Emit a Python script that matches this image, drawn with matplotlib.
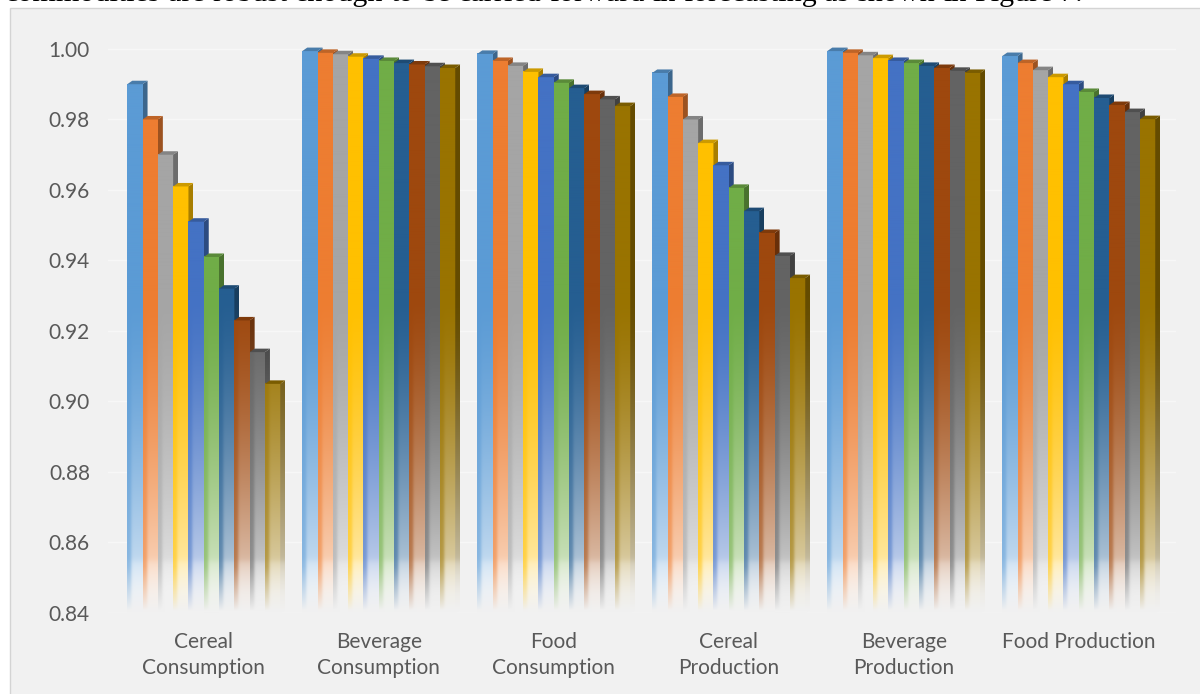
import numpy as np
import matplotlib
matplotlib.use("Agg")
import matplotlib.pyplot as plt
from matplotlib.colors import to_rgb
from matplotlib.patches import Polygon, Rectangle
from matplotlib.ticker import FormatStrFormatter

# ---- data -------------------------------------------------------------
categories = ["Cereal\nConsumption", "Beverage\nConsumption", "Food\nConsumption",
              "Cereal\nProduction", "Beverage\nProduction", "Food Production"]

cereal_consumption = [0.990, 0.980, 0.970, 0.961, 0.951, 0.941, 0.932, 0.923, 0.914, 0.905]
beverage_consumption = [0.9994, 0.9989, 0.9985, 0.9978, 0.9972, 0.9966, 0.9960, 0.9956, 0.9951, 0.9946]
food_consumption = [0.9986, 0.9966, 0.9952, 0.9935, 0.9920, 0.9904, 0.9889, 0.9872, 0.9857, 0.9838]
cereal_production = [0.9932, 0.9864, 0.9800, 0.9733, 0.9670, 0.9606, 0.9540, 0.9478, 0.9413, 0.9350]
beverage_production = [0.9994, 0.9989, 0.9982, 0.9974, 0.9966, 0.9960, 0.9952, 0.9946, 0.9938, 0.9932]
food_production = [0.9980, 0.9960, 0.9940, 0.9920, 0.9900, 0.9878, 0.9861, 0.9841, 0.9821, 0.9801]

groups = [cereal_consumption, beverage_consumption, food_consumption,
          cereal_production, beverage_production, food_production]

series_colors = ["#5B9BD5", "#ED7D31", "#A5A5A5", "#FFC000", "#4472C4",
                 "#70AD47", "#255E91", "#9E480E", "#636363", "#997300"]

y_ticks = [0.84, 0.86, 0.88, 0.90, 0.92, 0.94, 0.96, 0.98, 1.00]

body_text = ("commodities are robust enough to be carried forward in "
             "forecasting as shown in Figure 7.")

# ---- styling ----------------------------------------------------------
BG = np.array(to_rgb("#F1F1F1"))
TEXT = "#595959"
FONT = "Lato"
Y0, Y1 = 0.84, 1.003

W, H = 1200, 694
fig = plt.figure(figsize=(W / 100, H / 100), dpi=100, facecolor="white")

# chart area panel with thin border
fig.patches.append(Rectangle((9.5 / W, -0.01), 1.02, (H - 8) / H + 0.01,
                             transform=fig.transFigure, facecolor=BG,
                             edgecolor="#D4D4D4", lw=1.0, zorder=-10))

ax = fig.add_axes([108 / W, 81 / H, (1176 - 108) / W, (613 - 38.4) / H])
ax.set_facecolor("none")
for s in ax.spines.values():
    s.set_visible(False)

bar_w = 15.3 / 175.0          # front face width in category units
depth_x = 5.0 / 175.0         # 3-D depth offset, x
depth_y = 3.5 / 3525.0        # 3-D depth offset, y


def face_pixels(base, v_hi, nx=16, ny=260, stripe=True):
    """Front/side face colouring: solid on top, washing out toward the floor."""
    base = np.array(base)
    v = np.linspace(Y0, v_hi, ny)[:, None]
    u = np.linspace(0, 1, nx)[None, :]
    t = np.clip((v - 0.845) / (0.93 - 0.845), 0, 1)
    w = 0.74 * (1 - t) ** 1.5
    # paler reflection band near the floor
    w = w + 0.12 / (1.0 + np.exp(-(0.8545 - v) / 0.0005))
    if stripe:
        left = 1.0 / (1.0 + np.exp((u - 0.25) / 0.05))
        w = w * (1 - 0.55 * left)
    w = np.clip(w, 0, 1)
    w = np.broadcast_to(w, (ny, nx))
    col = base * (1 - w[..., None]) + 1.0 * w[..., None]
    f = np.clip((v - 0.8405) / (0.853 - 0.8405), 0, 1) ** 0.9
    f = np.broadcast_to(f, (ny, nx))
    col = BG * (1 - f[..., None]) + col * f[..., None]
    return np.clip(col, 0, 1)


for g, vals in enumerate(groups):
    start = g - len(vals) * bar_w / 2
    for j, v in enumerate(vals):
        base = np.array(to_rgb(series_colors[j]))
        z = 2 + j * 0.1
        x0 = start + j * bar_w
        x1 = x0 + bar_w
        # front face
        ax.imshow(face_pixels(base, v), extent=(x0, x1, Y0, v), origin="lower",
                  aspect="auto", interpolation="bilinear", zorder=z)
        # side face
        side = Polygon([(x1, Y0), (x1, v), (x1 + depth_x, v + depth_y),
                        (x1 + depth_x, Y0 + depth_y)], closed=True,
                       transform=ax.transData)
        im = ax.imshow(face_pixels(base * 0.66, v + depth_y, nx=4, stripe=False),
                       extent=(x1, x1 + depth_x, Y0, v + depth_y), origin="lower",
                       aspect="auto", interpolation="bilinear", zorder=z + 0.01)
        im.set_clip_path(side)
        # top cap
        ax.add_patch(Polygon([(x0, v), (x1, v), (x1 + depth_x, v + depth_y),
                              (x0 + depth_x, v + depth_y)], closed=True,
                             facecolor=base * 0.8, edgecolor="none", zorder=z + 0.02))

ax.set_xlim((108 - 203.75) / 175, (1176 - 203.75) / 175)
ax.set_ylim(Y0, Y1)
ax.set_yticks(y_ticks)
ax.yaxis.set_major_formatter(FormatStrFormatter("%.2f"))
ax.set_xticks(range(len(categories)))
ax.set_xticklabels(categories, linespacing=1.32)
ax.yaxis.grid(True, color="#F7F7F7", lw=1.0)
ax.set_axisbelow(True)
ax.tick_params(axis="both", length=0, labelcolor=TEXT, labelsize=15)
ax.tick_params(axis="y", pad=13)
ax.tick_params(axis="x", pad=14)
for lab in ax.get_xticklabels() + ax.get_yticklabels():
    lab.set_fontfamily(FONT)

# running body text line above the chart panel, set word by word
renderer = fig.canvas.get_renderer()
serif = dict(family="Liberation Serif", color="black", va="baseline", ha="left")


def text_width(s, size):
    t = fig.text(0, 0, s, fontsize=size, **serif)
    wpx = t.get_window_extent(renderer).width
    t.remove()
    return wpx


natural = text_width(body_text, 20)
size = 20 * (1078.0 / natural)
bar_px = text_width("|", size)
words = body_text.split()
x_left = 5.0
for i, wd in enumerate(words):
    prefix = " ".join(words[:i]) + (" " if i else "")
    offset = text_width(prefix + "|", size) - bar_px if i else 0.0
    fig.text((x_left + offset) / W, 1 - 0.6 / H, wd, fontsize=size, **serif)

fig.savefig("out.png", dpi=100, facecolor="white")
